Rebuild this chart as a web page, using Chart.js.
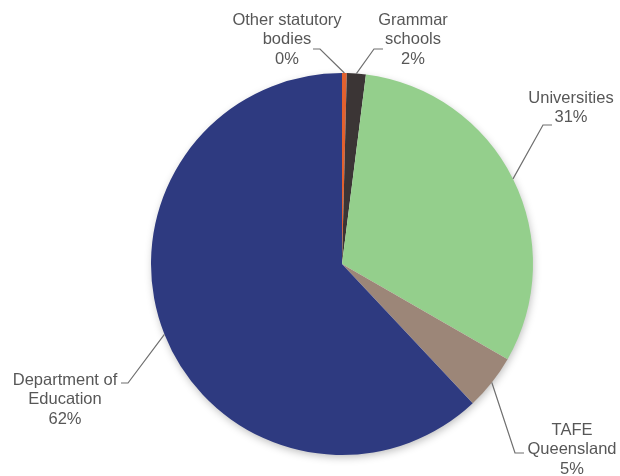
<!DOCTYPE html>
<html>
<head>
<meta charset="utf-8">
<script src="https://cdn.jsdelivr.net/npm/chart.js@4"></script>
<style>
  html, body { margin: 0; padding: 0; background: #fff; }
</style>
</head>
<body>
<canvas id="pieChart" width="620" height="476"></canvas>
<script>
// share of total, clockwise from 12 o'clock
const categories = [
    ["Other statutory", "bodies"],
    ["Grammar", "schools"],
    ["Universities"],
    ["TAFE", "Queensland"],
    ["Department of", "Education"]
];
const shares = [0.4, 1.6, 31.3, 4.7, 62.0];
const sliceColours = ["#e2612f", "#3b3535", "#94cf8c", "#9c8678", "#2e3a80"];

// where each callout sits: elbow of the leader, end of the short tail, text centre / first line
const callouts = [
    { elbow: [320, 49], tail: [313, 49], x: 287, y: 20 },
    { elbow: [374, 49], tail: [383, 49], x: 413, y: 20 },
    { elbow: [543, 125], tail: [552, 125], x: 571, y: 98 },
    { elbow: [515, 453], tail: [524, 453], x: 572, y: 430 },
    { elbow: [128, 383], tail: [121, 383], x: 65, y: 380 }
];

const total = shares.reduce((a, b) => a + b, 0);

// soft drop shadow under the whole pie
const pieShadow = {
    id: "pieShadow",
    beforeDatasetsDraw(chart) {
        const arc = chart.getDatasetMeta(0).data[0];
        if (!arc) return;
        const ctx = chart.ctx;
        ctx.save();
        ctx.shadowColor = "rgba(0,0,0,0.28)";
        ctx.shadowBlur = 9;
        ctx.shadowOffsetX = 1;
        ctx.shadowOffsetY = 3;
        ctx.fillStyle = "#ffffff";
        ctx.beginPath();
        ctx.arc(arc.x, arc.y, arc.outerRadius - 1, 0, Math.PI * 2);
        ctx.fill();
        ctx.restore();
    }
};

// leader lines and labels
const calloutLabels = {
    id: "calloutLabels",
    afterDatasetsDraw(chart) {
        const ctx = chart.ctx;
        const meta = chart.getDatasetMeta(0);
        ctx.save();
        meta.data.forEach((arc, i) => {
            const c = callouts[i];
            const mid = (arc.startAngle + arc.endAngle) / 2;
            const ax = arc.x + Math.cos(mid) * arc.outerRadius;
            const ay = arc.y + Math.sin(mid) * arc.outerRadius;

            ctx.strokeStyle = "#6f6f6f";
            ctx.lineWidth = 1.2;
            ctx.beginPath();
            ctx.moveTo(ax, ay);
            ctx.lineTo(c.elbow[0], c.elbow[1]);
            ctx.lineTo(c.tail[0], c.tail[1]);
            ctx.stroke();

            const pct = Math.round(shares[i] / total * 100) + "%";
            const lines = categories[i].concat([pct]);
            ctx.fillStyle = "#575757";
            ctx.font = "16.5px 'Liberation Sans', Arial, sans-serif";
            ctx.textAlign = "center";
            ctx.textBaseline = "middle";
            lines.forEach((t, k) => ctx.fillText(t, c.x, c.y + k * 19.7));
        });
        ctx.restore();
    }
};

new Chart(document.getElementById("pieChart").getContext("2d"), {
    type: "pie",
    data: {
        labels: categories.map(l => l.join(" ")),
        datasets: [{
            data: shares,
            backgroundColor: sliceColours,
            borderWidth: 0
        }]
    },
    options: {
        responsive: false,
        animation: false,
        layout: { padding: { top: 73, bottom: 21, left: 151, right: 87 } },
        plugins: {
            legend: { display: false },
            tooltip: { enabled: false }
        }
    },
    plugins: [pieShadow, calloutLabels]
});
</script>
</body>
</html>
